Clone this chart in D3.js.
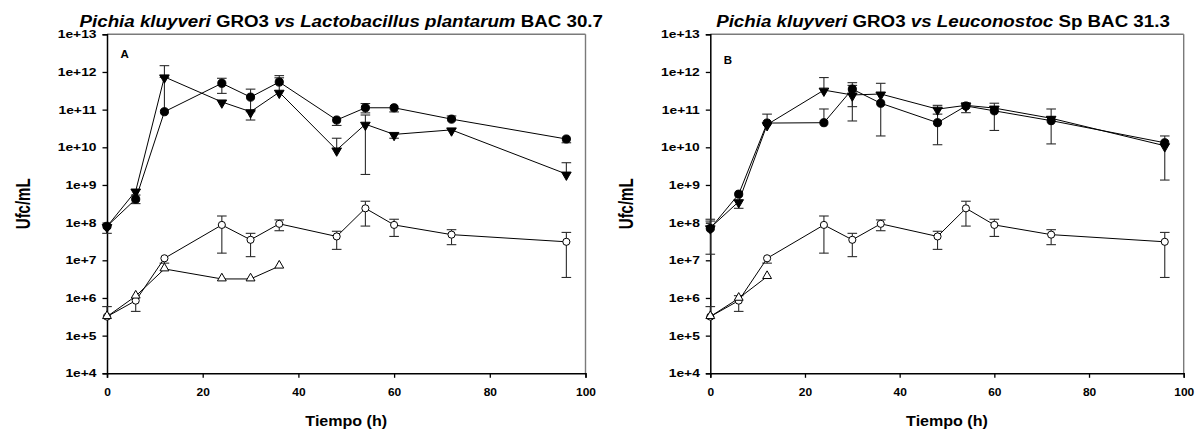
<!DOCTYPE html>
<html>
<head>
<meta charset="utf-8">
<script src="https://cdn.jsdelivr.net/npm/d3@7/dist/d3.min.js"></script>
<style>
  html, body { margin: 0; padding: 0; background: #fff; }
  svg { display: block; font-family: "Liberation Sans", Arial, sans-serif; }
</style>
</head>
<body>
<svg id="chart" width="1198" height="431"></svg>
<script>
// Sampling times (h)
const hours = [0, 6, 12, 24, 30, 36, 48, 54, 60, 72, 96];
const hoursShortA = [0, 6, 12, 24, 30, 36];
const hoursShortB = [0, 6, 12];

// Axis ticks
const xTicks = [0, 20, 40, 60, 80, 100];
const yTicks = [1e4, 1e5, 1e6, 1e7, 1e8, 1e9, 1e10, 1e11, 1e12, 1e13];

// Panel A — counts (Ufc/mL), upper and lower error bar ends (null = none)
const aClosedCircle   = [8.0e7, 4.2e8, 8.8e10, 5.0e11, 2.15e11, 5.4e11, 5.3e10, 1.12e11, 1.12e11, 5.6e10, 1.66e10];
const aClosedCircleHi = [null, 5.4e8, 7.2e11, 6.8e11, 3.5e11, 8.0e11, null, 1.45e11, null, 6.8e10, null];
const aClosedCircleLo = [5.2e7, 3.2e8, null, 2.7e11, 8.8e10, null, 3.8e10, 8.2e10, 8.7e10, null, 1.32e10];

const aClosedTri   = [7.9e7, 6.9e8, 7.4e11, 1.6e11, 8.8e10, 2.9e11, 8.5e9, 4.1e10, 2.2e10, 2.9e10, 1.95e9];
const aClosedTriHi = [null, null, 1.47e12, null, null, 7.0e11, 1.74e10, 7.2e10, null, null, 3.9e9];
const aClosedTriLo = [null, null, null, null, 5.3e10, null, null, 1.9e9, 1.74e10, null, null];

const aOpenCircle   = [3.2e5, 8.5e5, 1.13e7, 8.7e7, 3.5e7, 9.3e7, 4.3e7, 2.4e8, 8.7e7, 4.8e7, 3.1e7];
const aOpenCircleHi = [5.9e5, null, null, 1.5e8, 5.2e7, 1.18e8, 5.9e7, 3.7e8, 1.23e8, 6.5e7, 5.5e7];
const aOpenCircleLo = [null, 4.4e5, 8.4e6, 1.55e7, 1.25e7, 6.1e7, 1.95e7, 8.1e7, 4.3e7, 2.6e7, 3.5e6];

const aOpenTri   = [3.2e5, 1.12e6, 5.9e6, 3.2e6, 3.2e6, 7.0e6];
const aOpenTriHi = [null, null, null, null, null, null];
const aOpenTriLo = [null, null, null, null, null, null];

// Panel B
const bClosedCircle   = [7.0e7, 5.7e8, 4.4e10, 4.5e10, 3.5e11, 1.48e11, 4.5e10, 1.25e11, 9.3e10, 5.1e10, 1.32e10];
const bClosedCircleHi = [1.23e8, null, 7.6e10, 1.04e11, 5.2e11, null, 7.6e10, 1.52e11, null, 1.04e11, 2.0e10];
const bClosedCircleLo = [1.45e7, null, null, null, 1.2e11, 2.0e10, 1.17e10, 8.3e10, 2.8e10, 1.23e10, null];

const bClosedTri   = [7.3e7, 3.6e8, 4.0e10, 3.3e11, 2.45e11, 2.6e11, 1.03e11, 1.3e11, 1.1e11, 5.9e10, 1.1e10];
const bClosedTriHi = [1.1e8, null, null, 7.1e11, 4.4e11, 5.0e11, 1.3e11, null, 1.48e11, null, null];
const bClosedTriLo = [null, 2.4e8, null, null, 5.0e10, null, null, null, null, null, 1.35e9];

const bOpenCircle   = [3.2e5, 8.5e5, 1.13e7, 8.7e7, 3.5e7, 9.3e7, 4.3e7, 2.4e8, 8.7e7, 4.8e7, 3.1e7];
const bOpenCircleHi = [5.9e5, null, null, 1.5e8, 5.2e7, 1.18e8, 5.9e7, 3.7e8, 1.23e8, 6.5e7, 5.5e7];
const bOpenCircleLo = [null, 4.4e5, 8.4e6, 1.55e7, 1.25e7, 6.1e7, 1.95e7, 8.1e7, 4.3e7, 2.6e7, 3.5e6];

const bOpenTri   = [3.2e5, 9.8e5, 3.7e6];
const bOpenTriHi = [null, 1.15e6, null];
const bOpenTriLo = [null, null, null];

function series(t, v, hi, lo, shape, filled) {
  return { shape, filled, pts: t.map((h, i) => ({ t: h, v: v[i], hi: hi[i], lo: lo[i] })) };
}

const panels = [
  {
    left: 107, top: 34.3, width: 478.5, height: 339,
    letter: "A", letterDy: 24, titleShift: -5,
    title: [["Pichia kluyveri", true], [" GRO3 ", false], ["vs", true], [" ", false],
            ["Lactobacillus plantarum", true], [" BAC 30.7", false]],
    series: [
      series(hours, aOpenCircle, aOpenCircleHi, aOpenCircleLo, "circle", false),
      series(hoursShortA, aOpenTri, aOpenTriHi, aOpenTriLo, "triUp", false),
      series(hours, aClosedCircle, aClosedCircleHi, aClosedCircleLo, "circle", true),
      series(hours, aClosedTri, aClosedTriHi, aClosedTriLo, "triDown", true)
    ]
  },
  {
    left: 710.3, top: 34.3, width: 473.4, height: 339,
    letter: "B", letterDy: 29.5, titleShift: -4,
    title: [["Pichia kluyveri", true], [" GRO3 ", false], ["vs", true], [" ", false],
            ["Leuconostoc", true], [" Sp BAC 31.3", false]],
    series: [
      series(hours, bOpenCircle, bOpenCircleHi, bOpenCircleLo, "circle", false),
      series(hoursShortB, bOpenTri, bOpenTriHi, bOpenTriLo, "triUp", false),
      series(hours, bClosedCircle, bClosedCircleHi, bClosedCircleLo, "circle", true),
      series(hours, bClosedTri, bClosedTriHi, bClosedTriLo, "triDown", true)
    ]
  }
];

const svg = d3.select("#chart");

// widen text horizontally by factor k, keeping its anchor
function widen(sel, k) {
  sel.each(function () {
    const len = this.getComputedTextLength();
    d3.select(this).attr("textLength", len * k).attr("lengthAdjust", "spacingAndGlyphs");
  });
}

panels.forEach(p => {
  const x = d3.scaleLinear().domain([0, 100]).range([0, p.width]);
  const y = d3.scaleLog().domain([1e4, 1e13]).range([p.height, 0]);
  const g = svg.append("g").attr("transform", `translate(${p.left},${p.top})`);

  // grey frame on top and right
  g.append("line").attr("x1", 0).attr("x2", p.width).attr("y1", 0).attr("y2", 0)
    .attr("stroke", "#7a7a7a").attr("stroke-width", 1.4);
  g.append("line").attr("x1", p.width).attr("x2", p.width).attr("y1", 0).attr("y2", p.height)
    .attr("stroke", "#7a7a7a").attr("stroke-width", 1.4);

  // axes
  const yAxis = g.append("g")
    .call(d3.axisLeft(y).tickValues(yTicks).tickSize(4.5).tickPadding(6)
      .tickFormat(d => "1e+" + Math.round(Math.log10(d))));
  const xAxis = g.append("g").attr("transform", `translate(0,${p.height})`)
    .call(d3.axisBottom(x).tickValues(xTicks).tickSize(4.5).tickPadding(10.5).tickFormat(d3.format("d")));
  [yAxis, xAxis].forEach(a => {
    a.select(".domain").attr("stroke", "#000").attr("stroke-width", 1.5);
    a.selectAll(".tick line").attr("stroke", "#000").attr("stroke-width", 1.3);
    a.selectAll(".tick text").attr("fill", "#000").style("font-size", "11.5px").style("font-weight", "bold");
  });
  widen(yAxis.selectAll(".tick text"), 1.2);
  widen(xAxis.selectAll(".tick text"), 1.04);

  // title
  const title = svg.append("text")
    .attr("x", p.left + p.width / 2 + p.titleShift).attr("y", 26.5)
    .attr("text-anchor", "middle")
    .style("font-size", "16px").style("font-weight", "bold");
  p.title.forEach(([txt, it]) => {
    title.append("tspan").text(txt).style("font-style", it ? "italic" : "normal");
  });
  widen(title, 1.17);

  // panel letter
  g.append("text").attr("x", 13.5).attr("y", p.letterDy).text(p.letter)
    .style("font-size", "11.5px").style("font-weight", "bold");

  // axis titles
  svg.append("text")
    .attr("transform", `translate(${p.left - 77},${p.top + p.height / 2}) rotate(-90) scale(1,1.35)`)
    .attr("text-anchor", "middle").text("Ufc/mL")
    .style("font-size", "15px").style("font-weight", "bold");
  const xt = svg.append("text")
    .attr("x", p.left + p.width / 2).attr("y", 426)
    .attr("text-anchor", "middle").text("Tiempo (h)")
    .style("font-size", "15px").style("font-weight", "bold");
  widen(xt, 1.07);

  const line = d3.line().x(d => x(d.t)).y(d => y(d.v));
  const capW = 4.8;

  // error bars (drawn under the lines and symbols)
  p.series.forEach(s => {
    const eg = g.append("g").attr("stroke", "#2b2b2b").attr("stroke-width", 1.1);
    s.pts.forEach(d => {
      [d.hi, d.lo].forEach(end => {
        if (end == null) return;
        eg.append("line").attr("x1", x(d.t)).attr("x2", x(d.t))
          .attr("y1", y(d.v)).attr("y2", y(end));
        eg.append("line").attr("x1", x(d.t) - capW).attr("x2", x(d.t) + capW)
          .attr("y1", y(end)).attr("y2", y(end));
      });
    });
  });

  // connecting lines
  p.series.forEach(s => {
    g.append("path").datum(s.pts).attr("d", line)
      .attr("fill", "none").attr("stroke", "#000").attr("stroke-width", 1);
  });

  // symbols
  p.series.forEach(s => {
    const sym = s.shape === "circle"
      ? d3.symbol(d3.symbolCircle, s.filled ? 52 : 40)
      : d3.symbol(d3.symbolTriangle, s.filled ? 40 : 34);
    g.append("g").selectAll("path").data(s.pts).join("path")
      .attr("d", sym)
      .attr("transform", d => `translate(${x(d.t)},${y(d.v) + (s.shape === "triDown" ? 0.8 : s.shape === "triUp" ? -0.6 : 0)})` +
        (s.shape === "triDown" ? " rotate(180)" : ""))
      .attr("fill", s.filled ? "#000" : "#fff")
      .attr("stroke", "#000").attr("stroke-width", 1);
  });
});
</script>
</body>
</html>
